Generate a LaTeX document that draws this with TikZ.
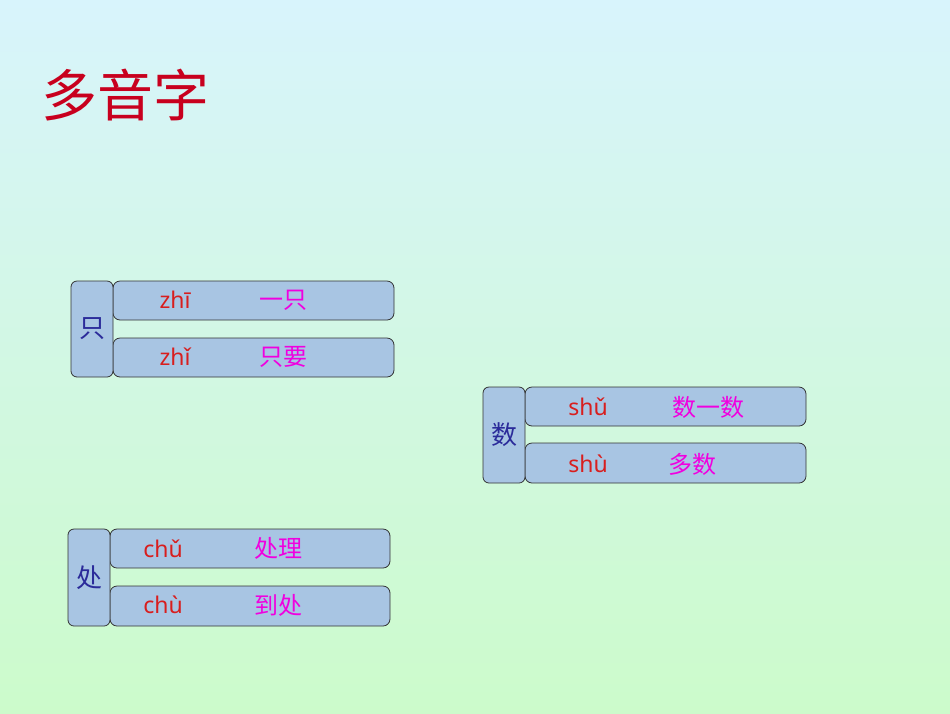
\documentclass[tikz,border=0pt]{standalone}
\usepackage{fontspec}
\newfontfamily\cjk{Noto Sans CJK SC}
\newfontfamily\py{Noto Sans}
\definecolor{bgtop}{HTML}{D8F4FC}
\definecolor{bgbot}{HTML}{CCFBCB}
\definecolor{boxc}{HTML}{A8C5E3}
\definecolor{titlec}{HTML}{C8001E}
\definecolor{pyc}{HTML}{D81E1E}
\definecolor{wc}{HTML}{F000E0}
\definecolor{hc}{HTML}{2B2B9A}
\begin{document}
\begin{tikzpicture}[x=1pt,y=-1pt,
  rowbox/.style={draw=black!80,line width=0.8pt,fill=boxc,rounded corners=7pt},
  headbox/.style={draw=black!80,line width=0.8pt,fill=boxc,rounded corners=6pt},
  pytext/.style={font=\py\fontsize{23}{23}\selectfont,text=pyc},
  wtext/.style={font=\cjk\fontsize{24}{24}\selectfont,text=wc},
  htext/.style={font=\cjk\fontsize{26}{26}\selectfont,text=hc}]
\shade[top color=bgtop,bottom color=bgbot] (0,0) rectangle (950,713);
\useasboundingbox (0,0) rectangle (950,713);
\node[font=\cjk\fontsize{56}{56}\selectfont,text=titlec,anchor=west] (title) at (38,95) {多音字};
% group 1
\draw[rowbox] (113,281) rectangle (394,320);
\draw[rowbox] (113,338) rectangle (394,377);
\node[headbox,minimum width=42pt,minimum height=96pt,inner sep=0] (h1) at (92,329) {};
\node[htext] (h1t) at (h1) {只};
\node[pytext] (p1a) at (175,300) {zhī};
\node[wtext] (w1a) at (283,300) {一只};
\node[pytext] (p1b) at (175,357) {zhǐ};
\node[wtext] (w1b) at (283,357) {只要};
% group 2
\draw[rowbox] (525,387) rectangle (806,426);
\draw[rowbox] (525,443) rectangle (806,483);
\node[headbox,minimum width=42pt,minimum height=96pt,inner sep=0] (h2) at (504,435) {};
\node[htext] (h2t) at (h2) {数};
\node[pytext] (p2a) at (588,407) {shǔ};
\node[wtext] (w2a) at (708,407) {数一数};
\node[pytext] (p2b) at (588,464) {shù};
\node[wtext] (w2b) at (692,464) {多数};
% group 3
\draw[rowbox] (110,529) rectangle (390,568);
\draw[rowbox] (110,586) rectangle (390,626);
\node[headbox,minimum width=42pt,minimum height=97pt,inner sep=0] (h3) at (89,577.5) {};
\node[htext] (h3t) at (h3) {处};
\node[pytext] (p3a) at (163,549) {chǔ};
\node[wtext] (w3a) at (278,548) {处理};
\node[pytext] (p3b) at (163,605) {chù};
\node[wtext] (w3b) at (278,605) {到处};
\end{tikzpicture}
\end{document}
